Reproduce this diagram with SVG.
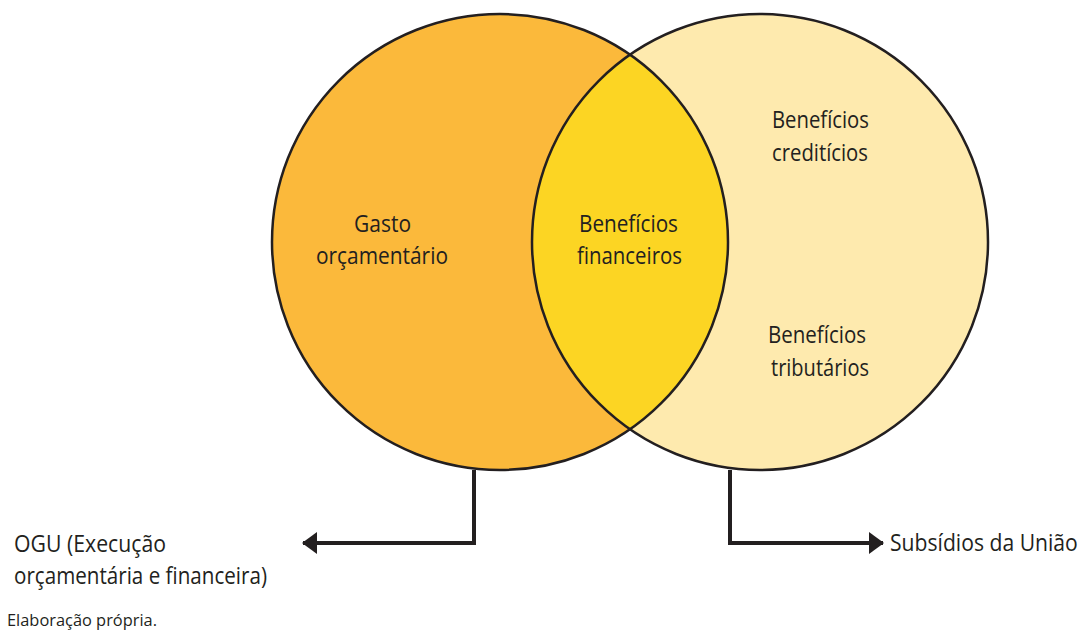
<svg xmlns="http://www.w3.org/2000/svg" width="1081" height="635" viewBox="0 0 1081 635">
  <defs>
    <style>
      .t { font-family: "Open Sans", "Liberation Sans", sans-serif; font-weight: 400; font-size: 23px; fill: #231f20; }
      .s { font-size: 17px; }
      .ring { fill: none; stroke: #231f20; stroke-width: 2.5; }
      .conn { fill: none; stroke: #231f20; stroke-width: 4; }
    </style>
    <marker id="ah" markerUnits="userSpaceOnUse" viewBox="0 0 15 22" refX="14" refY="11" markerWidth="15" markerHeight="22" orient="auto">
      <path d="M0 0 L15 11 L0 22 Z" fill="#231f20"/>
    </marker>
  </defs>
  <rect width="1081" height="635" fill="#ffffff"/>

  <g id="fills">
    <circle cx="760" cy="242" r="228" fill="#feeaae"/>
    <circle cx="500" cy="242" r="228" fill="#fbb93b"/>
    <path d="M630 54.7 A228 228 0 0 1 630 429.3 A228 228 0 0 1 630 54.7 Z" fill="#fcd523"/>
  </g>

  <g id="node-gasto">
    <circle class="ring" cx="500" cy="242" r="228"/>
    <text class="t" x="354" y="232" textLength="57" lengthAdjust="spacingAndGlyphs">Gasto</text>
    <text class="t" x="316" y="264" textLength="132" lengthAdjust="spacingAndGlyphs">orçamentário</text>
  </g>

  <g id="node-subsidios">
    <circle class="ring" cx="760" cy="242" r="228"/>
    <text class="t" x="772" y="128" textLength="97" lengthAdjust="spacingAndGlyphs">Benefícios</text>
    <text class="t" x="772" y="161" textLength="96" lengthAdjust="spacingAndGlyphs">creditícios</text>
    <text class="t" x="768" y="343" textLength="98" lengthAdjust="spacingAndGlyphs">Benefícios</text>
    <text class="t" x="771" y="376" textLength="98" lengthAdjust="spacingAndGlyphs">tributários</text>
  </g>

  <g id="node-financeiros">
    <text class="t" x="579" y="232" textLength="99" lengthAdjust="spacingAndGlyphs">Benefícios</text>
    <text class="t" x="577" y="264" textLength="105" lengthAdjust="spacingAndGlyphs">financeiros</text>
  </g>

  <g id="connectors">
    <path class="conn" d="M474 470 V543 H303" marker-end="url(#ah)"/>
    <path class="conn" d="M730 470 V543 H883" marker-end="url(#ah)"/>
  </g>

  <g id="node-ogu">
    <text class="t" x="14" y="552" textLength="152" lengthAdjust="spacingAndGlyphs">OGU (Execução</text>
    <text class="t" x="14" y="584" textLength="253" lengthAdjust="spacingAndGlyphs">orçamentária e financeira)</text>
  </g>

  <g id="node-uniao">
    <text class="t" transform="translate(890 551) scale(0.92 1)" x="0" y="0">Subsídios da União</text>
  </g>

  <g id="source">
    <text class="t s" x="7" y="626" textLength="150" lengthAdjust="spacingAndGlyphs">Elaboração própria.</text>
  </g>
</svg>
